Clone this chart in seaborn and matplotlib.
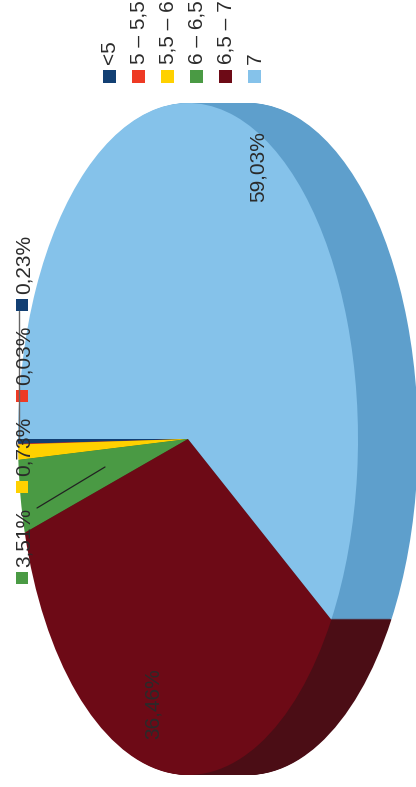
import matplotlib
matplotlib.use("Agg")
import matplotlib.pyplot as plt
from matplotlib.patches import Rectangle
import seaborn as sns

sns.set_theme(style="white")
plt.rcParams["font.family"] = ["Liberation Sans", "DejaVu Sans"]

# ---- data ----
categories = ["<5", "5 – 5,5", "5,5 – 6", "6 – 6,5", "6,5 – 7", "7"]
values = [0.23, 0.03, 0.73, 3.51, 36.46, 59.03]
value_labels = ["0,23%", "0,03%", "0,73%", "3,51%", "36,46%", "59,03%"]
top_colors = ["#123F73", "#EE3A24", "#FFD100", "#4A9A44", "#6D0A16", "#85C2EA"]
side_colors = ["#0C2A4E", "#A82817", "#B39200", "#336B2F", "#4B0D15", "#5E9FCC"]

# ---- layout (pixels) ----
W, H = 416, 787
cx, cy = 188, 439      # pie centre
rx, ry = 170, 336      # ellipse half-axes
depth = 60             # extrusion to the right

fig = plt.figure(figsize=(W / 100, H / 100), dpi=100)
ax = fig.add_axes([0, 0, 1, 1])

# extruded side: stacked shifted pies (far to near)
for k in range(depth, 0, -1):
    ax.pie(values, colors=side_colors, startangle=180, counterclock=True,
           center=(k / rx, 0), radius=1,
           wedgeprops=dict(linewidth=0))
# top face
ax.pie(values, colors=top_colors, startangle=180, counterclock=True,
       center=(0, 0), radius=1, wedgeprops=dict(linewidth=0))

ax.set_aspect("auto")
ax.set_xlim(-cx / rx, (W - cx) / rx)
ax.set_ylim(-(H - cy) / ry, cy / ry)
ax.axis("off")

# ---- overlay in pixel coordinates for labels / legend ----
ov = fig.add_axes([0, 0, 1, 1], facecolor="none")
ov.set_xlim(0, W)
ov.set_ylim(H, 0)
ov.axis("off")

txt_color = "#2a2a2a"
fs = 15


def square(x, y, size, col):
    ov.add_patch(Rectangle((x - size / 2, y - size / 2), size, size,
                           facecolor=col, edgecolor="none"))


# legend (rotated)
leg_x = [109, 138, 167, 196, 225, 254]
for x, lab, col in zip(leg_x, categories, top_colors):
    square(x, 76, 13, col)
    ov.text(x + 1, 64, lab, rotation=90, ha="center", va="bottom",
            fontsize=fs, color=txt_color)

# outside labels for the small slices
out_y = [305, 396, 487, 578]
for y, lab, col in zip(out_y, value_labels[:4], top_colors[:4]):
    square(22, y, 12, col)
    ov.text(24, y - 11, lab, rotation=90, ha="center", va="bottom",
            fontsize=fs, color=txt_color)

# leader lines
ov.plot([19, 19], [311, 440], color="#666666", lw=1)
ov.plot([37, 105], [508, 467], color="#222222", lw=0.9)

# inside labels
ov.text(258, 167, value_labels[5], rotation=90, ha="center", va="center",
        fontsize=fs, color=txt_color)
ov.text(153, 704, value_labels[4], rotation=90, ha="center", va="center",
        fontsize=fs, color=txt_color)

fig.savefig("out.png", dpi=100)
